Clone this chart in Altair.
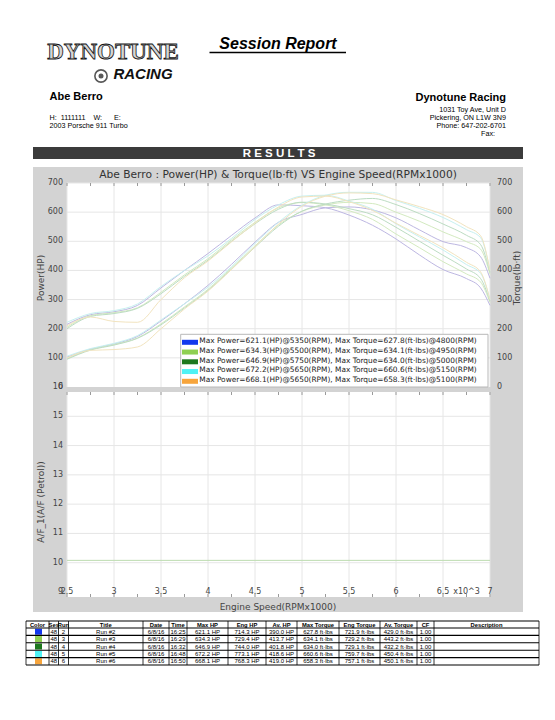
import altair as alt
import pandas as pd

# ---------------- data ----------------
rpm = [2.5, 2.75, 3.0, 3.25, 3.5, 3.75, 4.0, 4.25, 4.5, 4.75, 5.0, 5.25, 5.5, 5.75, 6.0, 6.25, 6.5, 6.75, 6.9, 7.0]

runs = ["Run #2", "Run #3", "Run #4", "Run #5", "Run #6"]

power_run2 = [102.3, 129.9, 147.4, 173.3, 226.6, 285.6, 348.8, 420.8, 497.0, 565.3, 592.2, 614.8, 617.9, 607.6, 580.3, 539.1, 498.8, 478.1, 446.7, 373.2]
power_run3 = [97.6, 128.3, 145.7, 168.3, 216.6, 274.9, 335.1, 408.7, 484.1, 556.2, 602.6, 624.8, 633.6, 629.5, 599.8, 568.8, 532.2, 498.7, 473.0, 386.5]
power_run4 = [95.2, 126.7, 143.9, 167.1, 213.3, 271.3, 331.3, 404.6, 479.8, 551.7, 603.6, 627.8, 640.9, 647.0, 626.0, 595.0, 559.4, 520.5, 488.7, 393.2]
power_run5 = [105.7, 131.9, 149.7, 176.4, 229.9, 285.6, 342.7, 412.7, 492.7, 565.3, 623.6, 657.8, 668.1, 667.8, 639.8, 612.9, 581.7, 539.8, 512.4, 399.8]
power_run6 = [100.0, 125.7, 128.5, 137.4, 199.9, 267.8, 329.0, 403.0, 481.5, 558.9, 620.7, 654.8, 666.0, 663.5, 642.0, 618.8, 591.6, 550.1, 519.0, 399.8]

torque_run2 = [215, 248, 258, 280, 340, 400, 458, 520, 580, 625, 622, 615, 590, 555, 508, 453, 403, 372, 340, 280]
torque_run3 = [205, 245, 255, 272, 325, 385, 440, 505, 565, 615, 633, 625, 605, 575, 525, 478, 430, 388, 360, 290]
torque_run4 = [200, 242, 252, 270, 320, 380, 435, 500, 560, 610, 634, 628, 612, 591, 548, 500, 452, 405, 372, 295]
torque_run5 = [222, 252, 262, 285, 345, 400, 450, 510, 575, 625, 655, 658, 638, 610, 560, 515, 470, 420, 390, 300]
torque_run6 = [210, 240, 225, 222, 300, 375, 432, 498, 562, 618, 652, 655, 636, 606, 562, 520, 478, 428, 395, 300]

af_rpm = [2.5, 7.0]
af_value = [10.08, 10.08]

max_power = [621.1, 634.3, 646.9, 672.2, 668.1]
max_power_rpm = [5350, 5500, 5750, 5650, 5650]
max_torque = [627.8, 634.1, 634.0, 660.6, 658.3]
max_torque_rpm = [4800, 4950, 5000, 5150, 5100]

ses = [48, 48, 48, 48, 48]
run_no = [2, 3, 4, 5, 6]
dates = ["6/8/16", "6/8/16", "6/8/16", "6/8/16", "6/8/16"]
times = ["16:25", "16:29", "16:32", "16:48", "16:50"]
eng_hp = [714.3, 729.4, 744.0, 773.1, 768.3]
av_hp = [390.0, 413.7, 401.8, 418.6, 419.0]
eng_torque = [721.9, 729.2, 729.1, 759.7, 757.1]
av_torque = [429.0, 443.2, 432.2, 450.4, 450.1]
cf = [1.00, 1.00, 1.00, 1.00, 1.00]

x_ticks = [2.5, 3.0, 3.5, 4.0, 4.5, 5.0, 5.5, 6.0, 6.5, 7.0]
x_tick_labels = ["2.5", "3", "3.5", "4", "4.5", "5", "5.5", "6", "6.5", "7"]
x_minor = [2.75, 3.25, 3.75, 4.25, 4.75, 5.25, 5.75, 6.25, 6.75]
power_ticks = [0, 100, 200, 300, 400, 500, 600, 700]
af_ticks = [9, 10, 11, 12, 13, 14, 15, 16]

# ---------------- styles / layout ----------------
legend_colors = ["#1238ee", "#8fd052", "#1d781d", "#4ff2f4", "#f7a53c"]
line_colors = ["#bdb7e2", "#d3eac0", "#bcdcc2", "#c6f0f0", "#f2e4bf"]
FONT = "DejaVu Sans"
ARIAL = "Liberation Sans"
NB = "\u00a0"

XS = alt.Scale(domain=[2.5, 7.0], range=[59, 482])
YT = alt.Scale(domain=[0, 700], range=[379, 175])
YB = alt.Scale(domain=[9, 16], range=[584, 379])
LEG = alt.Scale(domain=[0, 4], range=[333, 372])

NOAX = dict(axis=None)


def rects(rows, **kw):
    df = pd.DataFrame(rows, columns=["x", "x2", "y", "y2"])
    return alt.Chart(df).mark_rect(**kw).encode(
        x=alt.X("x:Q", scale=None, **NOAX), x2="x2:Q",
        y=alt.Y("y:Q", scale=None, **NOAX), y2="y2:Q")


def rules(rows, **kw):
    df = pd.DataFrame(rows, columns=["x", "x2", "y", "y2"])
    return alt.Chart(df).mark_rule(**kw).encode(
        x=alt.X("x:Q", scale=None, **NOAX), x2="x2:Q",
        y=alt.Y("y:Q", scale=None, **NOAX), y2="y2:Q")


def texts(rows, **kw):
    df = pd.DataFrame(rows, columns=["x", "y", "t"])
    return alt.Chart(df).mark_text(**kw).encode(
        x=alt.X("x:Q", scale=None, **NOAX),
        y=alt.Y("y:Q", scale=None, **NOAX),
        text="t:N")


layers = []

# backgrounds
layers.append(rects([[25, 515, 159, 604]], color="#d3d3d3"))
layers.append(rects([[25, 515, 139, 151]], color="#3b3b3b"))
layers.append(rects([[59, 482, 175, 379], [59, 482, 384, 589]], color="#ffffff"))

# gridlines
gx = pd.DataFrame({"v": x_ticks})
layers.append(alt.Chart(gx).mark_rule(color="#e6e6e6", strokeWidth=1).encode(
    x=alt.X("v:Q", scale=XS, **NOAX), y=alt.value(175), y2=alt.value(379)))
layers.append(alt.Chart(gx).mark_rule(color="#e6e6e6", strokeWidth=1).encode(
    x=alt.X("v:Q", scale=XS, **NOAX), y=alt.value(384), y2=alt.value(589)))
layers.append(alt.Chart(pd.DataFrame({"v": power_ticks[1:]})).mark_rule(color="#e6e6e6", strokeWidth=1).encode(
    y=alt.Y("v:Q", scale=YT, **NOAX), x=alt.value(59), x2=alt.value(482)))
layers.append(alt.Chart(pd.DataFrame({"v": af_ticks[1:-1]})).mark_rule(color="#e6e6e6", strokeWidth=1).encode(
    y=alt.Y("v:Q", scale=YB, **NOAX), x=alt.value(59), x2=alt.value(482)))

# small edge ticks
gm = pd.DataFrame({"v": x_ticks + x_minor})
for y0, y1 in [(175, 178), (384, 387), (586, 589)]:
    layers.append(alt.Chart(gm).mark_rule(color="#9a9a9a", strokeWidth=1).encode(
        x=alt.X("v:Q", scale=XS, **NOAX), y=alt.value(y0), y2=alt.value(y1)))

# power / torque curves
power_all = [power_run2, power_run3, power_run4, power_run5, power_run6]
torque_all = [torque_run2, torque_run3, torque_run4, torque_run5, torque_run6]
rows = []
for r, pw, tq in zip(runs, power_all, torque_all):
    for x, p, t in zip(rpm, pw, tq):
        rows.append({"rpm": x, "value": p, "run": r, "kind": "Power"})
        rows.append({"rpm": x, "value": t, "run": r, "kind": "Torque"})
curves = pd.DataFrame(rows)
layers.append(alt.Chart(curves).mark_line(strokeWidth=1, interpolate="monotone").encode(
    x=alt.X("rpm:Q", scale=XS, **NOAX),
    y=alt.Y("value:Q", scale=YT, **NOAX),
    color=alt.Color("run:N", scale=alt.Scale(domain=runs, range=line_colors), legend=None),
    detail="kind:N"))

# A/F line
layers.append(alt.Chart(pd.DataFrame({"rpm": af_rpm, "af": af_value})).mark_line(
    color="#bcdcb0", strokeWidth=1).encode(
    x=alt.X("rpm:Q", scale=XS, **NOAX), y=alt.Y("af:Q", scale=YB, **NOAX)))

# legend box
layers.append(rects([[172.7, 480, 326.3, 379]], fill="#ffffff", stroke="#b8b8b8", strokeWidth=1))
leg = pd.DataFrame({
    "i": list(range(5)),
    "run": runs,
    "label": [f"Max Power={p:.1f}(HP)@{pr}(RPM), Max Torque={t:.1f}(ft·lbs)@{tr}(RPM)"
              for p, pr, t, tr in zip(max_power, max_power_rpm, max_torque, max_torque_rpm)],
})
layers.append(alt.Chart(leg).mark_rule(strokeWidth=5, yOffset=1.3).encode(
    y=alt.Y("i:Q", scale=LEG, **NOAX), x=alt.value(174), x2=alt.value(190),
    color=alt.Color("run:N", scale=alt.Scale(domain=runs, range=legend_colors), legend=None)))
layers.append(alt.Chart(leg).mark_text(align="left", baseline="middle", font=FONT, fontSize=7.4,
                                        color="#222222").encode(
    y=alt.Y("i:Q", scale=LEG, **NOAX), x=alt.value(191.3), text="label:N"))

# axis labels
lab_kw = dict(font=FONT, fontSize=8, color="#444444", baseline="middle")
layers.append(alt.Chart(pd.DataFrame({"v": power_ticks, "t": [str(v) for v in power_ticks]})).mark_text(
    align="right", **lab_kw).encode(y=alt.Y("v:Q", scale=YT, **NOAX), x=alt.value(55), text="t:N"))
layers.append(alt.Chart(pd.DataFrame({"v": power_ticks, "t": [str(v) for v in power_ticks]})).mark_text(
    align="left", **lab_kw).encode(y=alt.Y("v:Q", scale=YT, **NOAX), x=alt.value(489), text="t:N"))
layers.append(alt.Chart(pd.DataFrame({"v": af_ticks, "t": [str(v) for v in af_ticks]})).mark_text(
    align="right", **lab_kw).encode(y=alt.Y("v:Q", scale=YB, **NOAX), x=alt.value(55), text="t:N"))
layers.append(alt.Chart(pd.DataFrame({"v": x_ticks, "t": x_tick_labels})).mark_text(
    align="center", **lab_kw).encode(x=alt.X("v:Q", scale=XS, **NOAX), y=alt.value(584), text="t:N"))
layers.append(texts([[458.5, 584, "x10^3"]], align="center", **lab_kw))

# axis titles
ttl = dict(font=FONT, fontSize=9, color="#444444", baseline="middle", align="center")
layers.append(texts([[270, 167, "Abe Berro : Power(HP) & Torque(lb·ft) VS Engine Speed(RPMx1000)"]],
                    font=FONT, fontSize=10.7, color="#333333", baseline="middle", align="center"))
layers.append(texts([[33, 270, "Power(HP)"], [33, 494, "A/F_1(A/F (Petrol))"], [509, 270, "Torque(lb·ft)"]],
                    angle=270, **ttl))
layers.append(texts([[270, 599, "Engine Speed(RPMx1000)"]], **ttl))

# results bar
layers.append(texts([[271, 145.5, "R E S U L T S"]], font=ARIAL, fontSize=11.5, fontWeight="bold",
                    color="#ffffff", align="center", baseline="middle"))

# header
layers.append(texts([[105, 44, "DYNOTUNE"]], font="Liberation Serif", fontSize=23, fontWeight="bold",
                    fill="#d4d4d4", stroke="#111111", strokeWidth=0.8, align="center", baseline="middle"))
layers.append(texts([[135, 66, "RACING"]], font=ARIAL, fontSize=15, fontWeight="bold", fontStyle="italic",
                    color="#111111", align="center", baseline="middle"))
layers.append(alt.Chart(pd.DataFrame({"a": [0]})).mark_point(shape="circle", size=150, filled=False,
                                                             color="#111111", strokeWidth=1.6).encode(
    x=alt.value(93), y=alt.value(68)))
layers.append(alt.Chart(pd.DataFrame({"a": [0]})).mark_point(shape="circle", size=25, filled=True,
                                                             color="#111111").encode(
    x=alt.value(93), y=alt.value(68)))
layers.append(texts([[270, 36, "Session Report"]], font=ARIAL, fontSize=16, fontWeight="bold",
                    fontStyle="italic", color="#000000", align="center", baseline="middle"))
layers.append(rules([[201.5, 338, 44.5, 44.5]], color="#000000", strokeWidth=1.5))
layers.append(texts([[41.5, 89, "Abe Berro"]], font=ARIAL, fontSize=11, fontWeight="bold",
                    color="#000000", align="left", baseline="middle"))
h_line = "H:" + NB * 2 + "1111111" + NB * 4 + "W:" + NB * 6 + "E:"
layers.append(texts([[41.5, 110, h_line], [41.5, 117.5, "2003 Porsche 911 Turbo"]],
                    font=ARIAL, fontSize=7.2, color="#000000", align="left", baseline="middle"))
layers.append(texts([[498, 90, "Dynotune Racing"]], font=ARIAL, fontSize=11, fontWeight="bold",
                    color="#000000", align="right", baseline="middle"))
layers.append(texts([[498, 102, "1031 Toy Ave, Unit D"], [498, 110, "Pickering, ON L1W 3N9"],
                     [498, 117.5, "Phone: 647-202-6701"], [487, 125.5, "Fax:"]],
                    font=ARIAL, fontSize=7.2, color="#000000", align="right", baseline="middle"))

# table
col_edges = [18, 41, 50.5, 60.5, 135, 161, 179, 220, 258, 289, 331, 372, 409, 426, 531]
row_edges = [613, 620, 627.4, 634.8, 642.2, 649.6, 657]
headers = ["Color", "Ses", "Run", "Title", "Date", "Time", "Max HP", "Eng HP", "Av. HP",
           "Max Torque", "Eng Torque", "Av. Torque", "CF", "Description"]
cx = [(a + b) / 2 for a, b in zip(col_edges[:-1], col_edges[1:])]
cy = [(a + b) / 2 for a, b in zip(row_edges[:-1], row_edges[1:])]

hdr_rows = [[cx[j], cy[0], h] for j, h in enumerate(headers)]
layers.append(texts(hdr_rows, font=ARIAL, fontSize=5.8, fontWeight="bold", color="#000000",
                    align="center", baseline="middle"))
cell_rows = []
for i in range(5):
    vals = ["", str(ses[i]), str(run_no[i]), runs[i], dates[i], times[i],
            f"{max_power[i]:.1f} HP", f"{eng_hp[i]:.1f} HP", f"{av_hp[i]:.1f} HP",
            f"{max_torque[i]:.1f} ft·lbs", f"{eng_torque[i]:.1f} ft·lbs", f"{av_torque[i]:.1f} ft·lbs",
            f"{cf[i]:.2f}", ""]
    for j, v in enumerate(vals):
        if v:
            cell_rows.append([cx[j], cy[i + 1], v])
layers.append(texts(cell_rows, font=ARIAL, fontSize=6, color="#000000", align="center", baseline="middle"))

sw = pd.DataFrame({"run": runs, "y": [cy[i + 1] - 3 for i in range(5)], "y2": [cy[i + 1] + 3 for i in range(5)]})
layers.append(alt.Chart(sw).mark_rect().encode(
    x=alt.value(27), x2=alt.value(34),
    y=alt.Y("y:Q", scale=None, **NOAX), y2="y2:Q",
    color=alt.Color("run:N", scale=alt.Scale(domain=runs, range=legend_colors), legend=None)))

hl = [[col_edges[0], col_edges[-1], y, y] for y in row_edges]
layers.append(rules(hl, color="#000000", strokeWidth=1.1))
vl = [[x, x, row_edges[0], row_edges[-1]] for x in col_edges]
layers.append(rules(vl, color="#000000", strokeWidth=0.8))

chart = (
    alt.layer(*layers)
    .resolve_scale(x="independent", y="independent", color="independent")
    .properties(width=539, height=704, autosize=alt.AutoSizeParams(type="none"), padding=0)
    .configure_view(stroke=None)
)

chart.save("out.html", embed_options={"renderer": "svg", "actions": False})
